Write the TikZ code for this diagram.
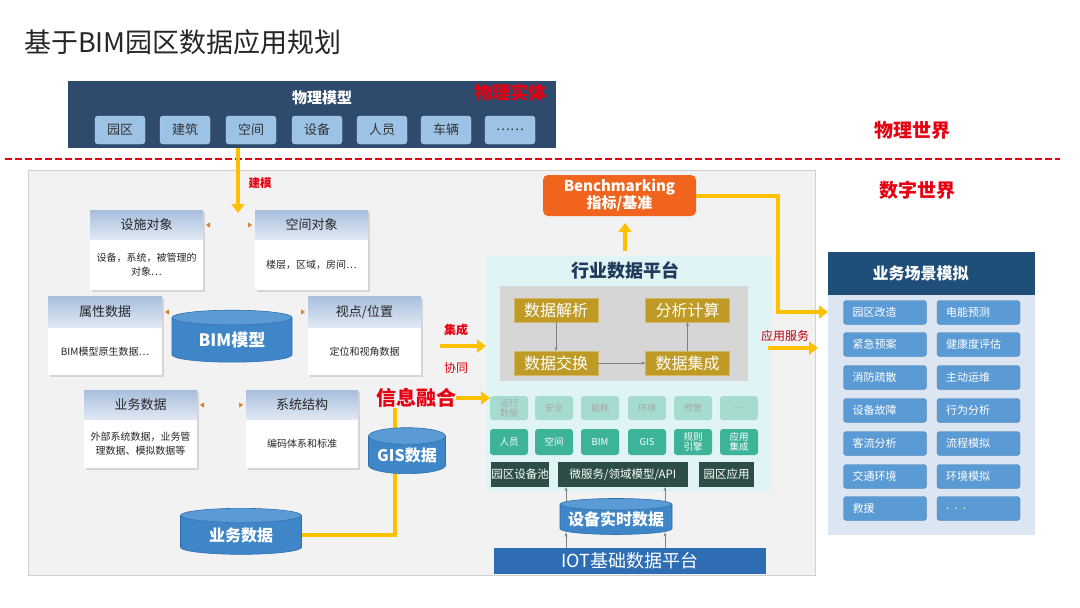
\documentclass[tikz,border=0pt]{standalone}
\usepackage{fontspec}
\setmainfont{Noto Sans CJK SC}
\usetikzlibrary{arrows.meta,shapes.geometric,calc,shadows}
\definecolor{topbar}{HTML}{2E4B6D}
\definecolor{subboxc}{HTML}{9CC2E5}
\definecolor{redc}{HTML}{E60012}
\definecolor{yelc}{HTML}{FFC000}
\definecolor{panelbg}{HTML}{F2F2F2}
\definecolor{panelbd}{HTML}{D0D0D0}
\definecolor{hdrtop}{HTML}{A7BEDD}
\definecolor{hdrbot}{HTML}{E2EAF4}
\definecolor{cylbody}{HTML}{3F86C8}
\definecolor{cyltop}{HTML}{5B9BD5}
\definecolor{cylbd}{HTML}{2F6FAF}
\definecolor{gold}{HTML}{BF9B26}
\definecolor{grayboxc}{HTML}{D6D6D6}
\definecolor{platbg}{HTML}{E0F4F6}
\definecolor{orangec}{HTML}{F0641E}
\definecolor{tealfade}{HTML}{A6DCCF}
\definecolor{tealc}{HTML}{3DB39A}
\definecolor{darkgreen}{HTML}{2C4E46}
\definecolor{iotc}{HTML}{2E6DB4}
\definecolor{rphdr}{HTML}{1F4E79}
\definecolor{rpbody}{HTML}{DCE6F2}
\definecolor{btnc}{HTML}{5B9BD5}
\definecolor{platttl}{HTML}{1F3A5A}
\definecolor{tipo}{HTML}{D9822B}
\newcommand\fsz[2]{\fontsize{#1}{#2}\selectfont}
\begin{document}
\begin{tikzpicture}[x=1pt,y=-1pt,
  every node/.style={inner sep=0pt, outer sep=0pt},
  subbox/.style={rounded corners=3pt, fill=subboxc, draw=subboxc!70!white, minimum width=50, minimum height=28, font=\fsz{13}{15}, text=black!80},
  hdr/.style={anchor=north west, top color=hdrtop, bottom color=hdrbot, minimum height=30, font=\fsz{13}{15}, text=black!85},
  bdy/.style={anchor=north west, fill=white, font=\fsz{10}{14}, align=center, text=black!85},
  shad/.style={drop shadow={opacity=0.25, shadow xshift=2pt, shadow yshift=-2pt}},
  cyl/.style={cylinder, shape border rotate=90, aspect=0.28, draw=cylbd, line width=0.6pt, cylinder uses custom fill, cylinder body fill=cylbody, cylinder end fill=cyltop, text=white, font=\bfseries},
  yline/.style={draw=yelc, line width=4pt},
  yarrow/.style={yline, -{Triangle[length=9pt,width=13pt]}},
  garrow/.style={draw=black!50, line width=0.6pt, -{Stealth[length=4pt,width=3pt]}},
  tipl/.style={draw=panelbg, line width=0.5pt, -{Triangle[length=4pt,width=5pt,color=tipo]}},
  gbox/.style={fill=gold, draw=gold!70!white, minimum width=84, minimum height=24, font=\fsz{16}{18}, text=white},
  tfade/.style={rounded corners=3pt, fill=tealfade, minimum width=38, minimum height=24, font=\fsz{9}{10}, text=black!35, align=center},
  tbox/.style={rounded corners=3pt, fill=tealc, minimum width=38, minimum height=26, font=\fsz{9.5}{10.5}, text=white, align=center},
  dbox/.style={fill=darkgreen, minimum height=25, font=\fsz{11.5}{13}, text=white},
  btn/.style={rounded corners=3pt, fill=btnc, draw=btnc!80!black, line width=0.4pt, minimum height=24, text width=65pt, inner xsep=9pt, align=left, font=\fsz{11}{13}, text=white},
  redlbl/.style={text=redc, font=\bfseries\fsz{12}{14}}
]
\fill[white] (0,0) rectangle (1080,608);
\useasboundingbox (0,0) rectangle (1080,608);

% title
\node[anchor=west, font=\fsz{27}{31}, text=black!85] (title) at (24,42) {基于BIM园区数据应用规划};

% top bar
\node[anchor=north west, fill=topbar, minimum width=488, minimum height=67] (pm) at (68,81) {};
\node[font=\bfseries\fsz{15}{17}, text=white] (pmt) at (322,98) {物理模型};
\node[font=\bfseries\fsz{18}{20}, text=redc] (pmr) at (510,93) {物理实体};
\foreach \x/\t/\n in {120/园区/s1, 185/建筑/s2, 251/空间/s3, 317/设备/s4, 382/人员/s5, 446/车辆/s6, 510/……/s7}
  \node[subbox] (\n) at (\x,130) {\t};

% separator
\draw[redc, line width=2pt, dash pattern=on 7pt off 3pt] (5,159) -- (1060,159);
\node[font=\bfseries\fsz{19}{21}, text=redc] (pw) at (912,130) {物理世界};
\node[font=\bfseries\fsz{19}{21}, text=redc] (dw) at (917,190) {数字世界};

% left panel
\node[anchor=north west, fill=panelbg, draw=panelbd, minimum width=787, minimum height=405] (lp) at (28,170) {};

% info boxes
\node[hdr, shad, minimum width=113] (ssh) at (90,210) {设施对象};
\node[bdy, shad, minimum width=113, minimum height=50] (ssb) at (ssh.south west) {设备，系统，被管理的\\对象…};
\node[hdr, shad, minimum width=113] (kjh) at (255,210) {空间对象};
\node[bdy, shad, minimum width=113, minimum height=50] (kjb) at (kjh.south west) {楼层，区域，房间…};
\node[hdr, shad, minimum width=114, minimum height=32] (sxh) at (48,296) {属性数据};
\node[bdy, shad, minimum width=114, minimum height=47] (sxb) at (sxh.south west) {BIM模型原生数据…};
\node[hdr, shad, minimum width=113, minimum height=32] (sdh) at (308,296) {视点/位置};
\node[bdy, shad, minimum width=113, minimum height=47] (sdb) at (sdh.south west) {定位和视角数据};
\node[hdr, shad, minimum width=113] (ywh) at (84,390) {业务数据};
\node[bdy, shad, minimum width=113, minimum height=48] (ywb) at (ywh.south west) {外部系统数据，业务管\\理数据、模拟数据等};
\node[hdr, shad, minimum width=112] (jgh) at (246,390) {系统结构};
\node[bdy, shad, minimum width=112, minimum height=48] (jgb) at (jgh.south west) {编码体系和标准};

% small tips
\draw[tipl] ($(ssh.east)+(8,0)$) -- ($(ssh.east)+(3,0)$);
\draw[tipl] ($(kjh.west)+(-8,0)$) -- ($(kjh.west)+(-3,0)$);
\draw[tipl] ($(sxh.east)+(8,0)$) -- ($(sxh.east)+(3,0)$);
\draw[tipl] ($(sdh.west)+(-8,0)$) -- ($(sdh.west)+(-3,0)$);
\draw[tipl] ($(ywh.east)+(8,0)$) -- ($(ywh.east)+(3,0)$);
\draw[tipl] ($(jgh.west)+(-8,0)$) -- ($(jgh.west)+(-3,0)$);

% modelling arrow
\coordinate (jm) at (238,213);
\draw[yarrow] (pm.south -| jm) -- (jm);
\node[redlbl, font=\bfseries\fsz{11.5}{13}] (jml) at (260,183) {建模};

% BIM cylinder
\node[cyl, aspect=0.22, minimum width=120, minimum height=52, font=\bfseries\fsz{17}{19}] (bim) at (232,340) {BIM模型};

% yellow feed lines
\coordinate (xr) at (395,408);
\node[cyl, aspect=0.22, minimum width=121, minimum height=46, font=\bfseries\fsz{16}{18}] (ywc) at (241,535) {业务数据};
\draw[yline] (ywc.east) -| (xr);
\node[cyl, minimum width=77, minimum height=46, font=\bfseries\fsz{16}{18}] (gis) at (407,455) {GIS数据};

% platform
\node[anchor=north west, fill=platbg, minimum width=286, minimum height=235] (plat) at (486,256) {};
\node[font=\bfseries\fsz{18}{20}, text=platttl] (pt) at (625,270) {行业数据平台};
\node[anchor=north west, fill=grayboxc, minimum width=248, minimum height=95] (gb) at (500,286) {};
\node[gbox] (g1) at (556,310) {数据解析};
\node[gbox] (g2) at (687.5,310) {分析计算};
\node[gbox] (g3) at (556,363) {数据交换};
\node[gbox] (g4) at (687.5,363) {数据集成};
\draw[garrow] (g1.south) -- (g3.north);
\draw[garrow] (g3.east) -- (g4.west);
\draw[garrow] (g4.north) -- (g2.south);

% teal rows
\foreach \x/\t/\n in {509/运行\\数据/f1, 554/安全/f2, 600/能耗/f3, 647/环境/f4, 693/预警/f5, 739/…/f6}
  \node[tfade] (\n) at (\x,408) {\t};
\foreach \x/\t/\n in {509/人员/t1, 554/空间/t2, 600/BIM/t3, 647/GIS/t4, 693/规则\\引擎/t5, 739/应用\\集成/t6}
  \node[tbox] (\n) at (\x,442) {\t};
\node[dbox, minimum width=58] (d1) at (520,474.5) {园区设备池};
\node[dbox, minimum width=130] (d2) at (623,474.5) {微服务/领域模型/API};
\node[dbox, minimum width=55] (d3) at (726.5,474.5) {园区应用};

% realtime data + IOT
\node[cyl, aspect=0.12, minimum width=112, minimum height=36, font=\bfseries\fsz{16}{18}] (rt) at (616,519.5) {设备实时数据};
\node[fill=iotc, minimum width=272, minimum height=26, font=\fsz{18}{20}, text=white] (iot) at (630,561) {IOT基础数据平台};
\coordinate (ga) at (566,0);
\coordinate (gc) at (665,0);
\draw[garrow] (iot.north -| ga) -- ($(rt.south -| ga)+(0,-2)$);
\draw[garrow] (iot.north -| gc) -- ($(rt.south -| gc)+(0,-2)$);
\draw[garrow] ($(rt.north -| ga)+(0,3)$) -- (d2.south -| ga);
\draw[garrow] ($(rt.north -| gc)+(0,3)$) -- (d2.south -| gc);

% integration arrows
\node[redlbl] (jc) at (456,330) {集成};
\node[redlbl, font=\fsz{12}{14}] (xt) at (456,368) {协同};
\coordinate (jcs) at (440,346);
\draw[yarrow] (jcs) -- (plat.west |- jcs);
\node[font=\bfseries\fsz{20}{22}, text=redc] (xrt) at (416,398) {信息融合};
\draw[yarrow] (xrt.east) -- (f1.west |- xrt.east);

% benchmarking
\node[rounded corners=5pt, fill=orangec, minimum width=153, minimum height=41, align=center, font=\bfseries\fsz{15}{17}, text=white] (bm) at (619.5,195.5) {Benchmarking\\指标/基准};
\draw[yarrow, line width=3.5pt] ($(pt.north)+(0,-10)$) -- ($(pt.north |- bm.south)+(0,7)$);

% right panel
\node[fill=rphdr, minimum width=207, minimum height=43, font=\bfseries\fsz{16}{18}, text=white] (rph) at (931.5,273.5) {\hspace*{-22pt}业务场景模拟};
\node[anchor=north west, fill=rpbody, minimum width=207, minimum height=240] (rpb) at (828,295) {};
\foreach \y/\a/\b/\n in {312.5/园区改造/电能预测/1, 344.5/紧急预案/健康度评估/2, 377.5/消防疏散/主动运维/3, 410.5/设备故障/行为分析/4, 443.5/客流分析/流程模拟/5, 476.5/交通环境/环境模拟/6, 508.5/救援/. . ./7}
{
  \node[btn] (bl\n) at (885,\y) {\a};
  \node[btn] (br\n) at (978.5,\y) {\b};
}

% benchmarking to scenario
\coordinate (bk) at (778,312);
\draw[yarrow] (bm.east) -| (bk) -- (rpb.west |- bk);
% application service
\node[text=redc!80!black, font=\fsz{12}{14}] (yyfw) at (785,336) {应用服务};
\coordinate (ys) at (768,348);
\draw[yarrow, shorten >=10pt] (ys) -- (rpb.west |- ys);
\end{tikzpicture}
\end{document}
